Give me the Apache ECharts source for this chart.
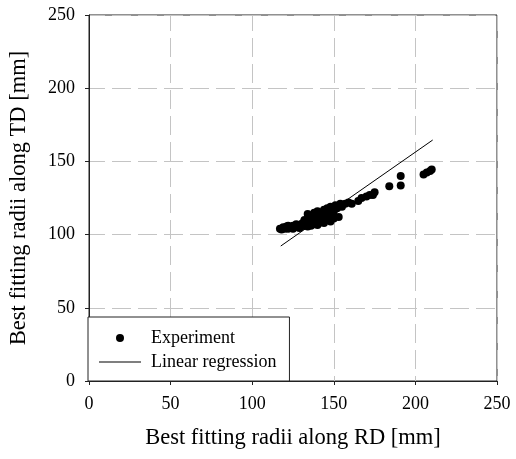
<!DOCTYPE html>
<html>
<head>
<meta charset="utf-8">
<script src="https://cdn.jsdelivr.net/npm/echarts@6/dist/echarts.min.js"></script>
<style>
  html, body { margin: 0; padding: 0; background: #fff; }
  #chart { width: 516px; height: 459px; }
</style>
</head>
<body>
<div id="chart"></div>
<script>
// measured points (RD, TD) in mm
var expX = [117, 118, 119, 120, 121, 122, 122, 123, 124, 125, 125, 126, 127, 128, 128, 129, 130, 130,
    131, 132, 132, 133, 134, 134, 135, 135, 136, 136, 137, 137, 138, 138, 139, 139, 140, 140,
    141, 141, 142, 142, 143, 143, 144, 144, 145, 145, 146, 147, 147, 148, 148, 149, 150, 150,
    151, 152, 153, 154, 155, 157, 159, 161, 165, 167, 170, 172, 174, 175, 184, 191, 191,
    205, 207, 209, 210];
var expY = [104, 103.5, 105, 104, 105.5, 104, 106, 105, 104.5, 106, 104, 105.5, 107, 105, 106.5, 104.5, 107, 105.5,
    108, 106, 110, 107, 114, 105.5, 109, 107, 112, 106, 110, 108, 115, 107, 111, 109, 116, 106.5,
    113, 108, 110, 115, 109, 112, 117, 108, 113, 110, 118, 111, 115, 109, 119, 113, 116, 111,
    120, 118, 112, 121, 119, 121, 122, 121, 123, 125, 126, 127, 127, 129, 133, 140, 133.5,
    141, 142.5, 143.5, 144.5];

// regression line end points
var regX = [117.5, 210.6];
var regY = [92.2, 164.6];

var axisTicks = [0, 50, 100, 150, 200, 250];

var serif = '"Liberation Serif", "Times New Roman", serif';

var chart = echarts.init(document.getElementById('chart'));

var gridLine = {
    show: true,
    lineStyle: { color: '#c4c4c4', width: 1, type: [19, 7], dashOffset: 3 }
};

var option = {
    animation: false,
    backgroundColor: '#fff',
    grid: {
        left: 89, right: 19, top: 15, bottom: 78,
        show: true, borderColor: '#222', borderWidth: 1
    },
    legend: {
        left: 88, top: 317,
        orient: 'vertical',
        padding: [12, 13, 10, 11],
        itemGap: 6,
        itemWidth: 42,
        itemHeight: 8,
        symbolKeepAspect: true,
        backgroundColor: '#fff',
        borderColor: '#222',
        borderWidth: 1,
        borderRadius: 0,
        textStyle: { fontFamily: serif, fontSize: 18, color: '#000', padding: [0, 0, 0, 5] },
        data: [
            { name: 'Experiment', icon: 'circle', itemStyle: { color: '#000', opacity: 1 } },
            { name: 'Linear regression', icon: 'path://M0,0H42V1H0Z', itemStyle: { color: '#000' } }
        ]
    },
    xAxis: {
        type: 'value',
        min: axisTicks[0], max: axisTicks[axisTicks.length - 1], interval: 50,
        name: 'Best fitting radii along RD [mm]',
        nameLocation: 'middle',
        nameGap: 46,
        nameTextStyle: { fontFamily: serif, fontSize: 22.5, color: '#000' },
        axisLine: { lineStyle: { color: '#222', width: 1 } },
        axisTick: { show: true, inside: false, length: 4, lineStyle: { color: '#222' } },
        axisLabel: { fontFamily: serif, fontSize: 18, color: '#000', margin: 14 },
        splitLine: gridLine
    },
    yAxis: {
        type: 'value',
        min: axisTicks[0], max: axisTicks[axisTicks.length - 1], interval: 50,
        name: 'Best fitting radii along TD [mm]',
        nameLocation: 'middle',
        nameGap: 58,
        nameTextStyle: { fontFamily: serif, fontSize: 22.5, color: '#000' },
        axisLine: { show: true, lineStyle: { color: '#222', width: 1 } },
        axisTick: { show: true, inside: false, length: 4, lineStyle: { color: '#222' } },
        axisLabel: { fontFamily: serif, fontSize: 18, color: '#000', margin: 14 },
        splitLine: gridLine
    },
    series: [
        {
            name: 'Experiment',
            type: 'scatter',
            symbol: 'circle',
            symbolSize: 8,
            itemStyle: { color: '#000', opacity: 1 },
            data: expX.map(function (x, i) { return [x, expY[i]]; }),
            z: 3
        },
        {
            name: 'Linear regression',
            type: 'line',
            symbol: 'none',
            itemStyle: { color: '#000' },
            lineStyle: { color: '#000', width: 1 },
            data: regX.map(function (x, i) { return [x, regY[i]]; }),
            z: 4
        }
    ]
};

chart.setOption(option);
</script>
</body>
</html>
